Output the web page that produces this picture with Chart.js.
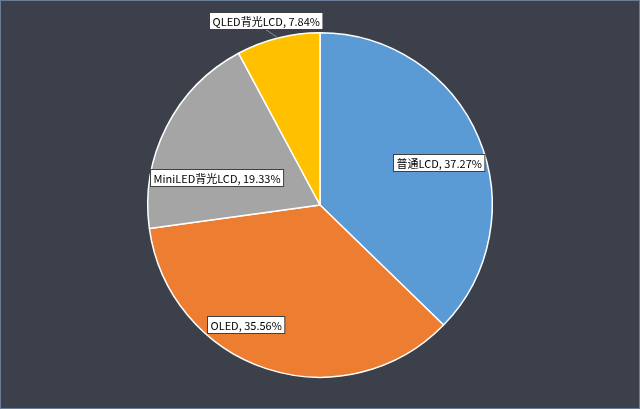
<!DOCTYPE html>
<html>
<head>
<meta charset="utf-8">
<script src="https://cdn.jsdelivr.net/npm/chart.js@4/dist/chart.umd.min.js"></script>
<style>
html,body{margin:0;padding:0;background:#3b404b;}
#wrap{width:640px;height:409px;position:relative;}
</style>
</head>
<body>
<div id="wrap"><canvas id="c" width="640" height="409"></canvas></div>
<script>
const categories = ["普通LCD", "OLED", "MiniLED背光LCD", "QLED背光LCD"];
const shares = [37.27, 35.56, 19.33, 7.84];
const colors = ["#5b9bd5", "#ed7d31", "#a5a5a5", "#ffc000"];
// label placement: [radius factor, angle adjust in degrees, leader line]
const labelPlacement = [[0.73, 3.3, false], [0.82, 13.8, false], [0.62, -12, false], [1.116, -2.3, true]];

const bgPlugin = {
  id: 'bg',
  beforeDraw(chart) {
    const ctx = chart.ctx;
    ctx.save();
    ctx.fillStyle = '#3b404b';
    ctx.fillRect(0, 0, chart.width, chart.height);
    ctx.strokeStyle = '#6a7d96';
    ctx.lineWidth = 1;
    ctx.strokeRect(0.5, 0.5, chart.width - 1, chart.height - 1);
    ctx.restore();
  }
};

const labelPlugin = {
  id: 'sliceLabels',
  afterDatasetsDraw(chart) {
    const ctx = chart.ctx;
    const meta = chart.getDatasetMeta(0);
    ctx.save();
    ctx.font = '11px "Noto Sans CJK SC", "Microsoft YaHei", sans-serif';
    ctx.textAlign = 'center';
    ctx.textBaseline = 'middle';
    meta.data.forEach((arc, i) => {
      const p = arc.getProps(['x', 'y', 'startAngle', 'endAngle', 'outerRadius'], true);
      const mid = (p.startAngle + p.endAngle) / 2;
      const [f, adj, leader] = labelPlacement[i];
      const a = mid + adj * Math.PI / 180;
      const lx = p.x + Math.cos(a) * p.outerRadius * f;
      const ly = p.y + Math.sin(a) * p.outerRadius * f;
      const text = categories[i] + ', ' + shares[i].toFixed(2) + '%';
      const w = ctx.measureText(text).width + 6;
      const h = 17;
      const bx = Math.round(lx - w / 2) + 0.5, by = Math.round(ly - h / 2) + 0.5;
      if (leader) {
        ctx.strokeStyle = '#8a8f99';
        ctx.lineWidth = 1;
        ctx.beginPath();
        ctx.moveTo(lx, by + h);
        ctx.lineTo(p.x + Math.cos(mid) * p.outerRadius, p.y + Math.sin(mid) * p.outerRadius);
        ctx.stroke();
      }
      ctx.fillStyle = '#ffffff';
      ctx.fillRect(bx, by, w, h);
      ctx.strokeStyle = '#404040';
      ctx.lineWidth = 1;
      ctx.strokeRect(bx, by, w, h);
      ctx.fillStyle = '#000000';
      ctx.fillText(text, bx + w / 2, by + h / 2 + 0.5);
    });
    ctx.restore();
  }
};

new Chart(document.getElementById('c'), {
  type: 'pie',
  data: {
    labels: categories,
    datasets: [{
      data: shares,
      backgroundColor: colors,
      borderColor: '#ffffff',
      borderWidth: 1.5
    }]
  },
  options: {
    responsive: false,
    animation: false,
    layout: { padding: { top: 32, bottom: 31, left: 0, right: 0 } },
    plugins: { legend: { display: false }, tooltip: { enabled: false } }
  },
  plugins: [bgPlugin, labelPlugin]
});
</script>
</body>
</html>
